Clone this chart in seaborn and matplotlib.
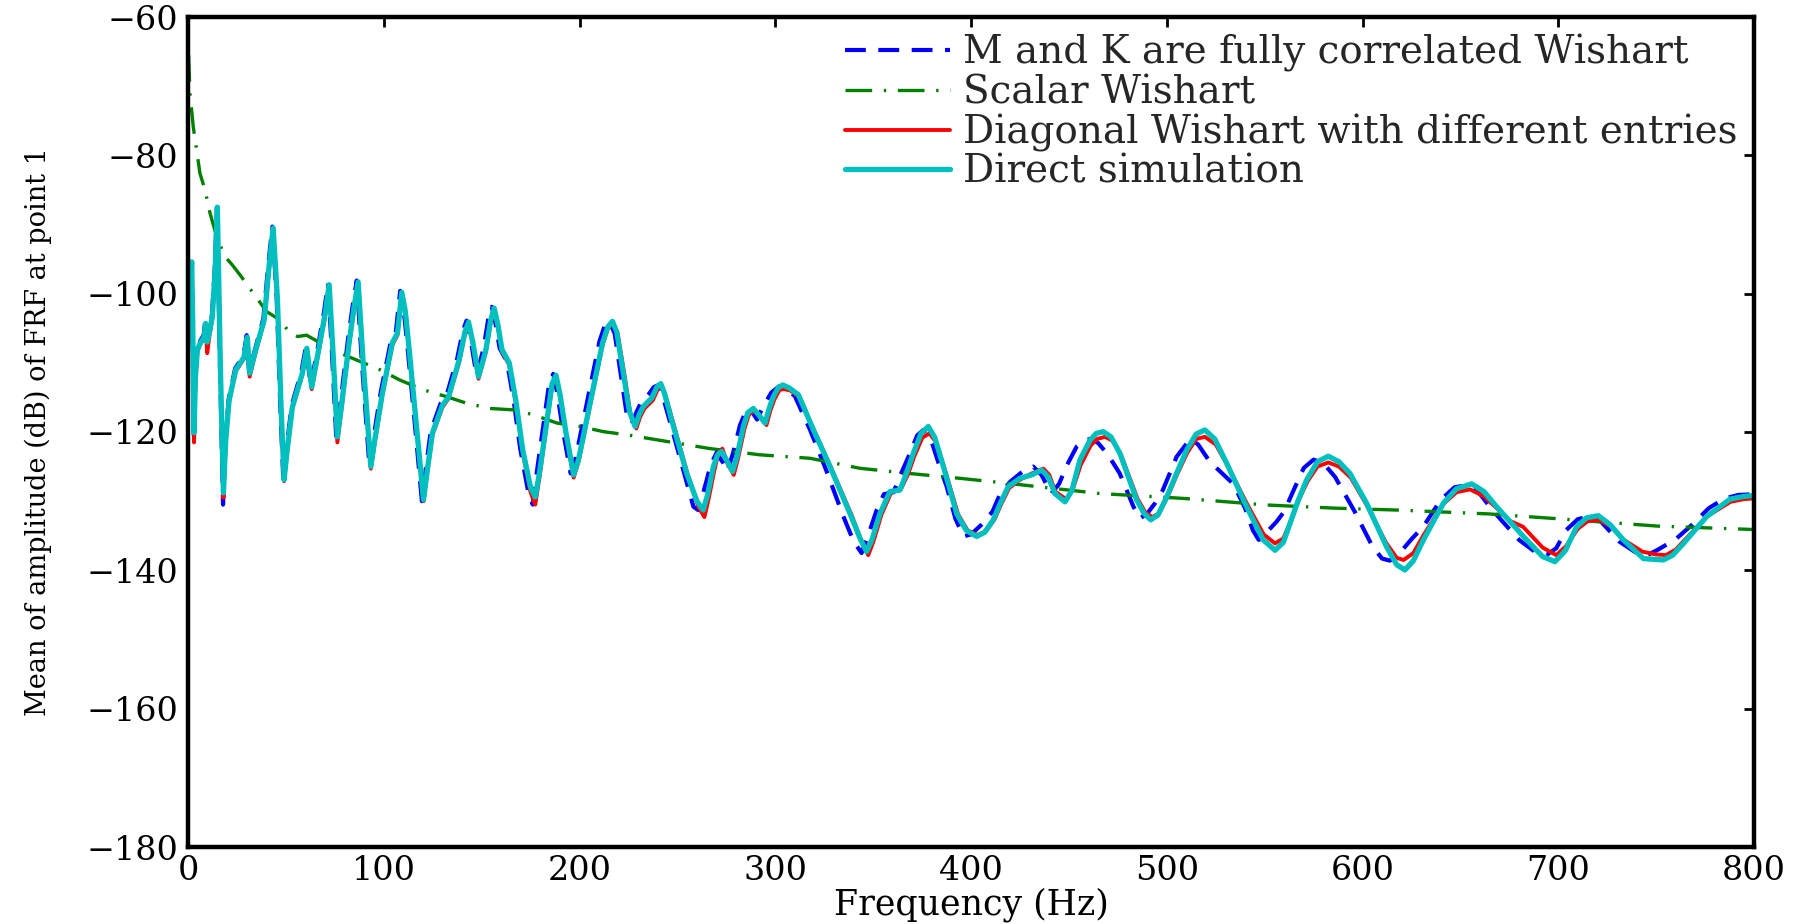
import matplotlib
matplotlib.use("Agg")
import matplotlib.pyplot as plt
import seaborn as sns
import pandas as pd

# ---------------- data ----------------
labels = ["M and K are fully correlated Wishart", "Scalar Wishart",
          "Diagonal Wishart with different entries", "Direct simulation"]

xticks = [0, 100, 200, 300, 400, 500, 600, 700, 800]
yticks = [-180, -160, -140, -120, -100, -80, -60]

# Direct simulation (cyan)
cyan_f = [0.0, 0.8, 1.9, 2.4, 3.1, 3.8, 4.8, 6.5, 8.2, 9.0, 9.8, 11.0, 12.4, 13.8, 15.0, 16.5, 18.1, 19.3,
          21.0, 24.4, 28.6, 30.3, 31.5, 34.6, 38.9, 41.4, 43.5, 45.7, 47.5, 49.1, 50.5, 53.3, 58.4, 60.7,
          63.2, 67.0, 70.0, 72.1, 74.0, 76.3, 78.5, 82.3, 84.8, 86.9, 89.5, 93.4, 95.5, 99.3, 104.4, 107.0,
          109.2, 111.0, 113.0, 117.0, 120.3, 122.5, 124.9, 130.0, 133.0, 138.5, 141.5, 143.3, 145.5, 148.4,
          152.2, 154.5, 156.4, 158.3, 160.4, 164.1, 167.5, 171.0, 175.0, 177.4, 179.5, 182.9, 186.0, 188.0,
          190.0, 193.1, 197.0, 199.5, 205.0, 211.8, 214.5, 216.8, 219.0, 222.4, 225.5, 228.4, 230.5, 232.6,
          236.9, 239.5, 241.5, 243.5, 247.1, 254.8, 260.0, 263.2, 265.5, 268.4, 270.5, 272.6, 275.0, 278.2,
          280.5, 283.7, 286.0, 288.8, 291.5, 294.8, 297.0, 299.0, 301.5, 303.8, 307.0, 311.8, 319.5, 328.0,
          338.2, 343.5, 346.7, 349.5, 353.5, 358.6, 363.7, 367.0, 370.5, 374.5, 378.2, 381.5, 385.9, 392.7,
          397.5, 402.9, 407.0, 411.4, 415.0, 419.0, 425.0, 431.0, 436.1, 439.5, 442.9, 448.0, 451.5, 455.7,
          460.8, 464.0, 467.6, 471.5, 476.1, 484.6, 488.5, 491.8, 495.5, 500.0, 505.0, 510.2, 515.0, 519.5,
          524.5, 530.6, 540.8, 549.3, 555.3, 559.5, 563.0, 567.0, 571.5, 577.0, 582.5, 588.0, 593.6, 602.1,
          612.3, 617.5, 621.7, 626.0, 631.1, 641.3, 648.0, 655.8, 662.0, 668.5, 682.2, 692.0, 698.3, 703.5,
          709.4, 714.5, 720.5, 726.5, 733.3, 743.5, 753.7, 758.5, 764.0, 775.9, 787.8, 795.0, 800.0]
cyan_db = [-104.0, -101.0, -95.4, -104.0, -120.1, -112.0, -108.1, -107.0, -106.3, -104.3, -107.0, -105.5,
           -103.4, -97.0, -87.5, -110.0, -128.8, -121.0, -115.4, -111.0, -109.2, -106.3, -111.5, -108.1,
           -103.8, -96.1, -90.5, -100.9, -116.0, -126.9, -123.0, -116.4, -111.5, -107.9, -113.5, -107.7,
           -103.0, -98.7, -108.0, -120.7, -116.0, -107.1, -102.0, -98.3, -110.0, -125.0, -121.0, -114.4,
           -107.1, -105.7, -99.8, -102.5, -108.1, -120.0, -129.8, -125.0, -120.1, -116.1, -115.0, -109.6,
           -105.5, -104.1, -107.0, -112.0, -108.1, -104.0, -102.1, -104.5, -108.1, -110.0, -115.5, -122.6,
           -128.0, -129.4, -126.0, -119.3, -113.0, -111.8, -114.5, -120.1, -126.2, -124.0, -116.4, -107.1,
           -104.8, -104.0, -105.5, -111.5, -117.0, -119.2, -117.5, -116.3, -115.1, -113.5, -113.0, -114.5,
           -118.3, -126.0, -130.0, -131.3, -129.0, -125.0, -123.3, -122.8, -124.0, -125.7, -123.5, -119.2,
           -117.2, -116.6, -117.5, -118.7, -116.5, -114.9, -113.6, -113.2, -113.6, -114.6, -119.7, -125.0,
           -131.8, -135.5, -137.3, -135.5, -131.8, -128.6, -128.4, -126.0, -123.1, -120.2, -119.2, -120.8,
           -125.0, -131.8, -134.2, -135.1, -134.5, -132.7, -130.3, -127.9, -126.7, -126.2, -125.5, -126.5,
           -128.9, -130.1, -128.5, -124.0, -121.2, -120.2, -119.95, -120.7, -123.1, -129.8, -131.8, -132.7,
           -132.0, -129.4, -126.0, -122.6, -120.3, -119.7, -121.0, -124.5, -130.8, -135.6, -137.1, -136.0,
           -133.2, -130.0, -126.9, -124.3, -123.5, -124.3, -126.0, -130.3, -136.6, -139.2, -139.95, -138.6,
           -135.6, -130.3, -128.2, -127.5, -128.6, -130.8, -135.1, -138.0, -138.75, -137.2, -133.7, -132.4,
           -132.1, -133.4, -135.6, -138.3, -138.5, -137.8, -136.1, -132.2, -129.7, -129.3, -129.2]

# Diagonal Wishart with different entries (red)
red_f = [0.0, 0.8, 1.9, 2.4, 3.1, 3.8, 4.8, 6.5, 8.2, 9.0, 9.8, 11.0, 12.4, 13.8, 15.0, 16.5, 18.1, 19.3,
         21.0, 24.4, 28.6, 30.3, 31.5, 34.6, 38.9, 41.4, 43.5, 45.7, 47.5, 49.1, 50.5, 53.3, 58.4, 60.7,
         63.2, 67.0, 70.0, 72.1, 74.0, 76.3, 78.5, 82.3, 84.8, 86.9, 89.5, 93.4, 95.5, 99.3, 104.4, 107.0,
         109.2, 111.0, 113.0, 117.0, 120.3, 122.5, 124.9, 130.0, 133.0, 138.5, 141.5, 143.3, 145.5, 148.4,
         152.2, 154.5, 156.4, 158.3, 160.4, 164.1, 167.5, 171.0, 175.0, 177.4, 179.5, 182.9, 186.0, 188.0,
         190.0, 193.1, 197.0, 199.5, 205.0, 211.8, 214.5, 217.0, 219.5, 223.0, 226.0, 229.0, 231.0, 233.2,
         237.5, 240.0, 242.0, 244.0, 247.8, 255.5, 260.7, 263.8, 266.0, 269.0, 271.0, 273.0, 275.5, 278.8,
         281.0, 284.3, 286.5, 289.2, 292.0, 295.5, 297.6, 299.7, 302.2, 304.5, 307.7, 312.5, 320.2, 328.7,
         339.0, 344.2, 347.5, 350.2, 354.2, 359.3, 364.3, 367.7, 371.2, 375.2, 378.8, 382.2, 386.6, 393.4,
         398.2, 403.3, 407.5, 411.9, 415.5, 419.5, 425.0, 431.0, 437.0, 440.0, 443.0, 448.5, 452.0, 456.0,
         461.0, 464.5, 468.5, 472.5, 477.0, 485.0, 489.0, 492.5, 496.0, 500.5, 505.5, 510.5, 515.0, 519.5,
         525.0, 531.0, 541.0, 549.5, 555.3, 559.5, 563.5, 567.5, 572.0, 577.0, 582.5, 588.0, 594.0, 602.0,
         612.0, 617.5, 621.0, 626.0, 631.0, 641.0, 648.0, 655.0, 662.0, 668.5, 675.0, 682.0, 692.0, 699.0,
         704.0, 710.0, 715.0, 721.0, 727.0, 733.0, 743.0, 750.0, 755.0, 760.0, 765.0, 776.0, 788.0, 795.0,
         800.0]
red_db = [-104.0, -101.5, -95.8, -104.5, -121.5, -112.5, -108.3, -107.2, -106.5, -105.0, -108.6, -106.0,
          -103.6, -97.2, -87.8, -110.5, -129.5, -121.5, -115.6, -111.2, -109.4, -106.6, -112.0, -108.4,
          -104.0, -96.4, -90.8, -101.2, -116.4, -127.1, -123.3, -116.6, -111.7, -108.2, -113.8, -108.0,
          -103.3, -99.0, -108.4, -121.5, -116.5, -107.4, -102.3, -98.6, -110.3, -125.3, -121.3, -114.6,
          -107.4, -106.0, -100.1, -102.8, -108.4, -120.3, -130.0, -125.3, -120.4, -116.4, -115.2, -109.9,
          -105.8, -104.4, -107.3, -112.3, -108.4, -104.3, -102.4, -104.8, -108.4, -110.3, -115.9, -123.0,
          -128.7, -130.5, -126.6, -119.6, -113.3, -112.1, -114.8, -120.4, -126.6, -124.3, -116.7, -107.4,
          -105.0, -104.3, -105.8, -111.8, -117.4, -119.5, -117.8, -116.6, -115.4, -113.8, -113.3, -114.8,
          -118.6, -126.4, -130.8, -132.3, -129.6, -125.4, -123.0, -122.4, -124.5, -126.2, -123.8, -119.5,
          -117.5, -116.9, -117.8, -119.0, -116.8, -115.2, -113.9, -113.8, -114.0, -115.0, -120.0, -125.3,
          -132.0, -135.9, -137.8, -135.8, -132.0, -128.7, -128.2, -126.2, -123.4, -120.8, -120.2, -121.5,
          -125.4, -131.9, -134.2, -134.9, -134.4, -132.7, -130.4, -128.1, -126.9, -126.0, -125.3, -126.2,
          -128.6, -129.7, -128.3, -124.8, -122.0, -121.0, -120.7, -121.3, -123.6, -129.6, -131.6, -132.3,
          -131.8, -129.3, -126.0, -123.0, -121.0, -120.7, -121.8, -124.8, -130.4, -134.8, -136.1, -135.4,
          -132.8, -129.8, -127.1, -125.0, -124.4, -125.0, -126.6, -130.5, -136.0, -138.2, -138.5, -137.5,
          -135.0, -130.5, -128.7, -128.3, -129.3, -131.0, -132.8, -133.7, -136.7, -137.8, -136.5, -134.0,
          -132.9, -132.7, -133.7, -135.5, -137.3, -137.7, -137.8, -137.0, -135.5, -132.2, -130.1, -129.7,
          -129.6]

# M and K fully correlated Wishart (blue, dashed)
blue_f = [0.0, 0.7, 1.7, 2.3, 3.0, 3.7, 4.7, 6.3, 8.0, 8.8, 9.6, 10.8, 12.2, 13.6, 14.8, 16.3, 17.9, 19.1,
          20.8, 24.1, 28.3, 30.0, 31.2, 34.3, 38.5, 41.0, 43.1, 45.3, 47.1, 48.7, 50.1, 52.9, 57.9, 60.2,
          62.7, 66.5, 69.4, 71.5, 73.4, 75.7, 77.9, 81.6, 84.1, 86.2, 88.8, 92.7, 94.8, 98.5, 103.6, 106.2,
          108.4, 110.2, 112.2, 116.2, 119.5, 121.7, 124.0, 129.0, 132.0, 137.5, 140.5, 142.3, 144.5, 147.4,
          151.0, 153.3, 155.2, 157.1, 159.2, 162.9, 166.3, 169.7, 173.7, 176.1, 178.2, 181.5, 184.6, 186.6,
          188.6, 191.6, 195.5, 198.0, 203.5, 210.2, 212.9, 215.5, 218.0, 221.0, 224.0, 226.8, 229.0, 231.0,
          235.5, 238.0, 240.5, 242.5, 246.0, 253.5, 258.2, 260.7, 263.5, 267.0, 270.0, 273.5, 275.5, 278.5,
          282.0, 285.0, 287.0, 290.7, 293.5, 298.0, 302.0, 304.2, 310.0, 317.8, 326.0, 334.8, 340.0, 344.1,
          348.0, 351.8, 355.5, 360.4, 364.0, 368.8, 372.5, 375.7, 380.0, 384.0, 387.6, 392.0, 396.1, 400.0,
          405.0, 411.0, 414.8, 420.0, 426.0, 431.8, 436.0, 441.0, 445.0, 449.0, 454.0, 458.0, 461.0, 465.0,
          470.0, 476.0, 483.0, 486.3, 490.0, 494.0, 498.0, 505.0, 512.0, 516.0, 522.0, 534.0, 540.0, 544.0,
          547.0, 551.0, 556.0, 560.0, 565.0, 570.0, 575.0, 580.0, 586.0, 596.0, 605.0, 610.0, 614.0, 619.0,
          625.0, 631.0, 640.0, 647.0, 653.0, 659.0, 667.0, 680.0, 688.0, 694.0, 699.0, 704.0, 710.0, 716.0,
          722.0, 731.0, 740.0, 745.5, 751.0, 760.0, 768.0, 777.0, 785.0, 792.0, 800.0]
blue_db = [-103.8, -100.5, -94.8, -104.0, -120.5, -112.0, -108.0, -106.8, -106.0, -104.0, -107.0, -105.3,
           -103.2, -96.8, -87.5, -110.0, -130.5, -121.0, -115.2, -110.8, -109.0, -106.0, -111.3, -108.0,
           -103.6, -95.8, -90.3, -100.6, -116.0, -127.0, -123.0, -116.2, -111.3, -107.7, -113.3, -107.5,
           -102.8, -98.5, -107.8, -120.6, -115.8, -106.9, -101.8, -98.1, -109.8, -125.0, -120.8, -114.2,
           -106.9, -105.5, -99.6, -102.3, -107.9, -119.8, -130.0, -124.8, -119.9, -115.9, -114.8, -109.4,
           -105.3, -103.9, -106.8, -111.8, -107.9, -103.8, -101.9, -104.3, -107.9, -109.8, -115.3, -122.4,
           -128.5, -130.5, -125.8, -119.1, -112.8, -111.6, -114.3, -119.9, -126.0, -123.8, -116.2, -106.9,
           -104.6, -104.1, -105.8, -111.5, -117.2, -118.8, -117.2, -116.0, -114.5, -113.5, -113.2, -114.8,
           -118.3, -126.0, -130.8, -131.3, -128.5, -124.8, -123.0, -124.5, -125.7, -123.0, -119.0, -117.0,
           -116.6, -118.2, -116.5, -114.3, -113.4, -113.5, -114.8, -119.7, -125.5, -132.2, -135.8, -137.5,
           -134.5, -131.3, -129.0, -128.7, -126.2, -123.1, -120.5, -119.7, -121.5, -125.0, -127.9, -132.5,
           -135.1, -134.8, -133.5, -131.5, -129.0, -127.2, -125.8, -125.0, -126.2, -128.9, -127.5, -124.8,
           -122.1, -121.2, -121.0, -121.6, -123.3, -126.0, -130.8, -132.5, -131.8, -130.3, -128.4, -123.6,
           -121.0, -121.8, -124.3, -127.5, -131.0, -134.2, -135.6, -134.5, -133.0, -131.5, -128.3, -125.2,
           -124.0, -124.5, -126.5, -131.5, -136.5, -138.3, -138.6, -137.5, -135.5, -133.7, -129.8, -128.0,
           -127.7, -128.6, -131.5, -135.6, -137.3, -137.8, -136.8, -134.2, -132.6, -132.2, -133.0, -135.8,
           -137.5, -137.8, -137.0, -135.5, -133.5, -131.0, -129.6, -129.1, -129.0]

# Scalar Wishart (green, dash-dot)
green_f = [0.3, 1.0, 2.7, 4.4, 6.1, 8.7, 11.2, 14.7, 18.9, 22.5, 26.6, 33.4, 40.2, 47.0, 52.1, 56.0, 60.6,
           67.4, 76.0, 87.9, 98.1, 108.3, 120.2, 132.2, 142.4, 154.3, 166.2, 176.4, 188.4, 200.3, 212.2,
           224.1, 249.6, 266.7, 292.2, 317.8, 343.3, 368.8, 394.4, 418.2, 465.9, 508.5, 551.0, 585.0,
           619.2, 665.0, 707.7, 750.3, 800.0]
green_db = [-65.5, -71.0, -75.9, -79.2, -82.6, -85.0, -88.3, -91.8, -94.65, -95.8, -97.3, -99.95, -102.6,
            -103.8, -105.7, -106.2, -106.0, -107.1, -108.4, -109.8, -111.0, -112.5, -113.9, -114.9, -115.85,
            -116.6, -116.8, -117.5, -118.7, -119.2, -119.95, -120.4, -121.6, -122.4, -123.3, -123.8, -125.25,
            -126.0, -126.7, -127.4, -128.9, -129.6, -130.55, -131.0, -131.3, -131.85, -132.7, -133.6, -134.1]

# ---------------- styling ----------------
sns.set_theme(style="white")
plt.rcParams["font.family"] = ["DejaVu Serif"]
plt.rcParams["axes.unicode_minus"] = True

fig = plt.figure(figsize=(18.07, 9.24), dpi=100)
ax = fig.add_axes([188 / 1807, 1 - 847 / 924, (1754 - 188) / 1807, (847 - 17) / 924])

series = [
    (blue_f, blue_db, labels[0], "#0000FF", 3.0, (0, (5.0, 3.0))),
    (green_f, green_db, labels[1], "#008000", 2.4, (0, (8.0, 3.5, 0.7, 3.5))),
    (red_f, red_db, labels[2], "#FF0000", 2.8, "-"),
    (cyan_f, cyan_db, labels[3], "#00BFBF", 3.8, "-"),
]
for f, db, lab, col, lw, ls in series:
    df = pd.DataFrame({"f": f, "db": db})
    sns.lineplot(data=df, x="f", y="db", ax=ax, color=col, linewidth=lw, sort=False,
                 estimator=None, label=lab)
    ax.lines[-1].set_linestyle(ls)

ax.set_xlim(0, 800)
ax.set_ylim(-180, -60)
ax.set_xticks(xticks)
ax.set_yticks(yticks)
ax.tick_params(direction="in", length=7, width=2, top=True, right=True,
               labelsize=24, colors="black", pad=7)
ax.tick_params(axis="x", pad=6)
for s in ax.spines.values():
    s.set_visible(True)
    s.set_linewidth(3.2)
    s.set_color("black")

ax.set_xlabel("Frequency (Hz)", fontsize=25, color="black")
ax.set_ylabel("Mean of amplitude (dB) of FRF at point 1", fontsize=19.5, color="black")
ax.xaxis.set_label_coords(0.5, -0.049)
ax.yaxis.set_label_coords(-0.087, 0.5)

leg = ax.legend(loc="upper left", bbox_to_anchor=(845 / 1807, 1 - 34.5 / 924),
                bbox_transform=fig.transFigure, frameon=False, fontsize=28,
                handlelength=2.7, handletextpad=0.33, labelspacing=0.055,
                borderpad=0.0, borderaxespad=0.0)

fig.savefig("out.png", dpi=100)
